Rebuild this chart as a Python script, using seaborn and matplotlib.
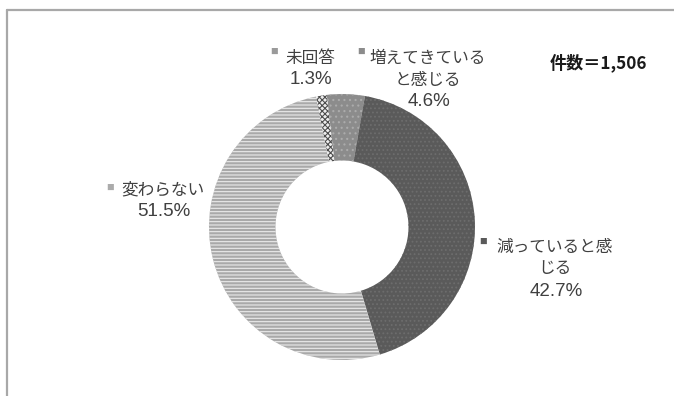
import matplotlib
matplotlib.use("Agg")
import matplotlib.pyplot as plt
from matplotlib.lines import Line2D
import seaborn as sns

# Survey answers, clockwise from just left of 12 o'clock
categories = ["増えてきている\nと感じる", "減っていると感\nじる", "変わらない", "未回答"]
shares = [4.6, 42.7, 51.5, 1.3]
count_label = "件数＝1,506"

sns.set_theme(style="white")
plt.rcParams["font.family"] = ["Noto Sans CJK JP", "DejaVu Sans"]
plt.rcParams["hatch.linewidth"] = 0.8

W, H = 674, 396
CX, CY, R = 342, 227, 133  # donut centre and outer radius in pixels

face_cols = ["#8c8c8c", "#5a5a5a", "#a9a9a9", "#ededed"]
hatch_cols = ["#ababab", "#6d6d6d", "#ebebeb", "#4d4d4d"]
hatches = ["...", "....", "-----", "xxxxxx"]
key_cols = ["#8c8c8c", "#5a5a5a", "#ababab", "#9a9a9a"]

fig = plt.figure(figsize=(W / 100, H / 100), dpi=100)
fig.patch.set_facecolor("white")
ax = fig.add_axes([0, 0, 1, 1])

wedges, _ = ax.pie(
    shares,
    radius=1.0,
    startangle=96.6,
    counterclock=False,
    colors=face_cols,
    wedgeprops=dict(width=0.5, linewidth=0),
)
for w, hc, ht in zip(wedges, hatch_cols, hatches):
    w.set_edgecolor(hc)
    w.set_linewidth(0)
    w.set_hatch(ht)

# one data unit == R pixels on both axes
ax.set_aspect("auto")
ax.set_xlim(-CX / R, (W - CX) / R)
ax.set_ylim(-(H - CY) / R, CY / R)
ax.axis("off")


def to_data(px, py):
    return (px - CX) / R, (CY - py) / R


# label anchors (text block centre, first-line y) and key marker positions
text_pos = [(428, 58), (555, 247), (163, 190), (310, 58)]
key_pos = [(361, 52), (483, 242), (110, 188), (274, 52)]

txt_color = "#404040"
line_gap = 22.0
for name, val, (tx, ty), (kx, ky), kc in zip(categories, shares, text_pos, key_pos, key_cols):
    lines = name.split("\n")
    for i, ln in enumerate(lines):
        x, y = to_data(tx, ty + i * line_gap)
        ax.text(x, y, ln, ha="center", va="center", fontsize=12, color=txt_color)
    x, y = to_data(tx + 1, ty + len(lines) * line_gap)
    ax.text(x, y, f"{val}%", ha="center", va="center", fontsize=13.5,
            family=["Liberation Sans", "DejaVu Sans"], color=txt_color)
    x, y = to_data(kx, ky)
    ax.text(x, y, "■", ha="center", va="center", fontsize=5.5, color=kc)

x, y = to_data(550, 63)
ax.text(x, y, count_label, ha="left", va="center", fontsize=12.3,
        fontweight="bold", color="#1a1a1a")

# chart frame: left and top border
frame_col = "#a8a8a8"
fig.add_artist(Line2D([7 / W, 7 / W], [0, 1 - 10 / H], transform=fig.transFigure,
                      color=frame_col, linewidth=1.6))
fig.add_artist(Line2D([7 / W, 1], [1 - 10 / H, 1 - 10 / H], transform=fig.transFigure,
                      color=frame_col, linewidth=1.6))

fig.savefig("out.png", dpi=100, facecolor="white")
